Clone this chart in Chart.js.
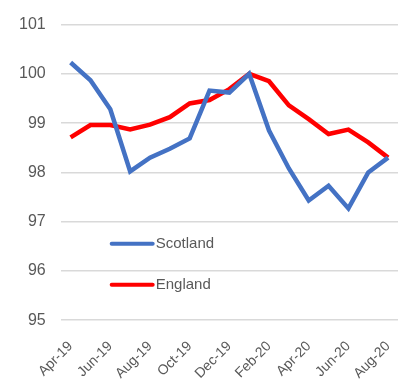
<!DOCTYPE html>
<html>
<head>
<meta charset="utf-8">
<script src="https://cdn.jsdelivr.net/npm/chart.js@4.4.1/dist/chart.umd.min.js"></script>
<style>
  html, body { margin: 0; padding: 0; background: #fff; }
  #wrap { width: 415px; height: 392px; position: relative; }
</style>
</head>
<body>
<div id="wrap"><canvas id="chart"></canvas></div>
<script>
// Monthly index values (Jan-20 = 100)
const months = ['Apr-19', 'May-19', 'Jun-19', 'Jul-19', 'Aug-19', 'Sep-19', 'Oct-19', 'Nov-19', 'Dec-19',
    'Jan-20', 'Feb-20', 'Mar-20', 'Apr-20', 'May-20', 'Jun-20', 'Jul-20', 'Aug-20'];
const scotland = [100.23, 99.87, 99.28, 98.02, 98.30, 98.48, 98.69, 99.66, 99.62,
    100.0, 98.85, 98.08, 97.43, 97.73, 97.27, 98.0, 98.30];
const england = [98.71, 98.96, 98.96, 98.87, 98.97, 99.12, 99.40, 99.47, 99.69,
    100.0, 99.85, 99.36, 99.08, 98.78, 98.87, 98.61, 98.30];
const yTicks = [95, 96, 97, 98, 99, 100, 101];
const legendRows = [96.55, 95.72];

const font = '"Liberation Sans", Arial, sans-serif';

// Legend drawn inside the plot area, like the spreadsheet original
const insideLegend = {
    id: 'insideLegend',
    afterDatasetsDraw(chart) {
        const ctx = chart.ctx;
        const area = chart.chartArea;
        const x0 = area.left + 51;
        ctx.save();
        chart.data.datasets.forEach((ds, i) => {
            const y = chart.scales.y.getPixelForValue(legendRows[i]);
            ctx.strokeStyle = ds.borderColor;
            ctx.lineWidth = 4;
            ctx.lineCap = 'round';
            ctx.beginPath();
            ctx.moveTo(x0, y);
            ctx.lineTo(x0 + 41, y);
            ctx.stroke();
            ctx.fillStyle = '#595959';
            ctx.font = '15px ' + font;
            ctx.textBaseline = 'middle';
            ctx.fillText(ds.label, x0 + 44, y);
        });
        ctx.restore();
    }
};

const ctx = document.getElementById('chart').getContext('2d');
new Chart(ctx, {
    type: 'line',
    data: {
        labels: months,
        datasets: [
            {
                label: 'Scotland',
                data: scotland,
                borderColor: '#4472C4',
                borderWidth: 4.5,
                pointRadius: 0,
                tension: 0
            },
            {
                label: 'England',
                data: england,
                borderColor: '#FF0000',
                borderWidth: 4.5,
                pointRadius: 0,
                tension: 0
            }
        ]
    },
    options: {
        responsive: true,
        maintainAspectRatio: false,
        animation: false,
        layout: {
            padding: { top: 17, right: 17, bottom: 0, left: 4 }
        },
        plugins: {
            legend: { display: false },
            tooltip: { enabled: false }
        },
        scales: {
            x: {
                offset: true,
                grid: { display: false },
                border: { display: false },
                ticks: {
                    autoSkip: false,
                    minRotation: 45,
                    maxRotation: 45,
                    padding: 10,
                    color: '#595959',
                    font: { family: font, size: 14 },
                    callback: function(value, index) {
                        return index % 2 === 0 ? months[index] : '';
                    }
                }
            },
            y: {
                min: 95,
                max: 101,
                afterBuildTicks: function(axis) {
                    axis.ticks = yTicks.map(v => ({ value: v }));
                },
                grid: { color: '#d9d9d9', lineWidth: 1.5, drawTicks: false },
                border: { display: false },
                ticks: {
                    padding: 15,
                    color: '#595959',
                    font: { family: font, size: 16 }
                }
            }
        }
    },
    plugins: [insideLegend]
});
</script>
</body>
</html>
